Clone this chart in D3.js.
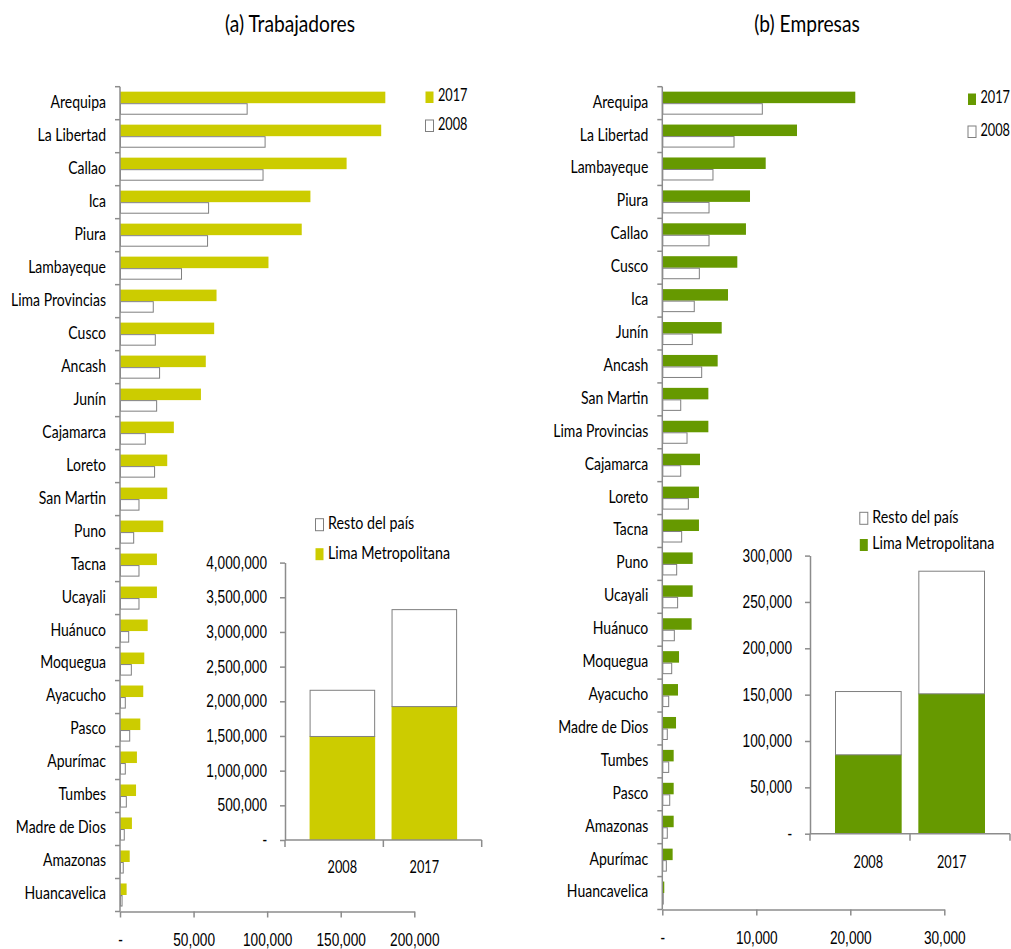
<!DOCTYPE html>
<html>
<head>
<meta charset="utf-8">
<script src="https://cdn.jsdelivr.net/npm/d3@7"></script>
<style>
  body { margin: 0; background: #fff; }
  svg { font-family: Lato, "Liberation Sans", sans-serif; fill: #000; }
</style>
</head>
<body>
<div id="chart"></div>
<script>
const regionesTrab = ['Arequipa', 'La Libertad', 'Callao', 'Ica', 'Piura', 'Lambayeque', 'Lima Provincias', 'Cusco', 'Ancash', 'Junín',
  'Cajamarca', 'Loreto', 'San Martin', 'Puno', 'Tacna', 'Ucayali', 'Huánuco', 'Moquegua', 'Ayacucho', 'Pasco',
  'Apurímac', 'Tumbes', 'Madre de Dios', 'Amazonas', 'Huancavelica'];
const trab2017 = [180300, 177500, 154000, 129400, 123500, 100900, 65600, 64000, 58300, 55000,
  36600, 32100, 32100, 29400, 25100, 25100, 18800, 16500, 15800, 13800, 11500, 10900, 8100, 6600, 4500];
const trab2008 = [86400, 98600, 97200, 60200, 59500, 41800, 22600, 24000, 26900, 24900,
  17200, 23500, 12900, 9300, 12900, 12900, 5900, 7700, 3600, 6600, 3600, 4300, 2900, 2200, 1400];

const regionesEmp = ['Arequipa', 'La Libertad', 'Lambayeque', 'Piura', 'Callao', 'Cusco', 'Ica', 'Junín', 'Ancash', 'San Martin',
  'Lima Provincias', 'Cajamarca', 'Loreto', 'Tacna', 'Puno', 'Ucayali', 'Huánuco', 'Moquegua', 'Ayacucho', 'Madre de Dios',
  'Tumbes', 'Pasco', 'Amazonas', 'Apurímac', 'Huancavelica'];
const emp2017 = [20530, 14330, 11000, 9330, 8900, 7980, 6990, 6320, 5890, 4900,
  4900, 4010, 3900, 3900, 3230, 3230, 3120, 1780, 1670, 1460, 1210, 1210, 1210, 1100, 210];
const emp2008 = [10640, 7630, 5390, 4970, 4970, 3940, 3400, 3190, 4190, 1960,
  2630, 1960, 2770, 2060, 1530, 1630, 1280, 1000, 680, 530, 680, 790, 530, 430, 100];

const years = ['2008', '2017'];
const limaTrab = [1500000, 1931000];
const restoTrab = [666000, 1398000];
const limaEmp = [85650, 151450];
const restoEmp = [68250, 132250];

const trabTicks = [0, 50000, 100000, 150000, 200000];
const empTicks = [0, 10000, 20000, 30000];
const trabInsetTicks = [0, 500000, 1000000, 1500000, 2000000, 2500000, 3000000, 3500000, 4000000];
const empInsetTicks = [0, 50000, 100000, 150000, 200000, 250000, 300000];

const axisColor = '#8c8c8c';
const outline = '#7f7f7f';
const fmt = v => v === 0 ? '-' : d3.format(',')(v);

const svg = d3.select('#chart').append('svg').attr('width', 1011).attr('height', 949);

// el original usa una fuente estrecha: tamaño por altura y luego se comprime el ancho
function textRole(sample, width, size) {
  const t = svg.append('text').style('font-size', size + 'px').text(sample);
  const w = t.node().getComputedTextLength();
  t.remove();
  return {size: size + 'px', k: width / w};
}
function squeeze(sel, role) {
  sel.style('font-size', role.size).each(function () {
    const w = this.getComputedTextLength();
    d3.select(this).attr('textLength', w * role.k).attr('lengthAdjust', 'spacingAndGlyphs');
  });
}
const titleRole = textRole('(a) Trabajadores', 130, 22.5);
const catRole = textRole('Lima Provincias', 95, 17.5);
const tickRole = textRole('4,000,000', 61.7, 17.5);
const legRole = textRole('Lima Metropolitana', 122, 17.5);
const yearRole = textRole('2017', 29.5, 17.5);

function barPanel(cfg) {
  const g = svg.append('g');

  g.append('text')
      .attr('x', cfg.titleX).attr('y', 26)
      .attr('text-anchor', 'middle').attr('dominant-baseline', 'middle')
      .text(cfg.title)
      .call(squeeze, titleRole);

  const x = d3.scaleLinear().domain([0, cfg.xMax]).range([cfg.x0, cfg.x1]);
  const y = d3.scaleBand().domain(cfg.regiones).range([86.7, cfg.yBottom]);
  const sub = d3.scaleBand().domain(['2017', '2008']).range([0, y.bandwidth()]).paddingOuter(0.43);

  const rows = cfg.regiones.map((r, i) => ({region: r, v2017: cfg.v2017[i], v2008: cfg.v2008[i]}));

  g.selectAll('.b2017').data(rows).enter().append('rect')
      .attr('x', cfg.x0)
      .attr('y', d => y(d.region) + sub('2017'))
      .attr('width', d => x(d.v2017) - cfg.x0)
      .attr('height', sub.bandwidth())
      .attr('fill', cfg.color);

  g.selectAll('.b2008').data(rows).enter().append('rect')
      .attr('x', cfg.x0 + 0.5)
      .attr('y', d => y(d.region) + sub('2008') + 0.5)
      .attr('width', d => Math.max(0, x(d.v2008) - cfg.x0 - 0.5))
      .attr('height', sub.bandwidth() - 1)
      .attr('fill', '#fff')
      .attr('stroke', outline)
      .attr('stroke-width', 1);

  // eje vertical con marcas entre categorías
  const bounds = cfg.regiones.map(r => y(r)).concat([cfg.yBottom]);
  g.append('line')
      .attr('x1', cfg.x0).attr('x2', cfg.x0)
      .attr('y1', 86.7).attr('y2', cfg.yBottom)
      .attr('stroke', axisColor).attr('stroke-width', 1.5);
  g.selectAll('.ytick').data(bounds).enter().append('line')
      .attr('x1', cfg.x0 - 5).attr('x2', cfg.x0)
      .attr('y1', d => d).attr('y2', d => d)
      .attr('stroke', axisColor).attr('stroke-width', 1.5);

  g.selectAll('.ylabel').data(cfg.regiones).enter().append('text')
      .attr('x', cfg.x0 - 14)
      .attr('y', d => y(d) + y.bandwidth() / 2)
      .attr('text-anchor', 'end').attr('dominant-baseline', 'middle')
      .text(d => d)
      .call(squeeze, catRole);

  const xAxis = g.append('g')
      .attr('transform', `translate(0,${cfg.yBottom})`)
      .call(d3.axisBottom(x).tickValues(cfg.ticks).tickSize(6).tickSizeOuter(0).tickPadding(16).tickFormat(fmt));
  xAxis.select('.domain').attr('stroke', axisColor).attr('stroke-width', 1.5);
  xAxis.selectAll('.tick line').attr('stroke', axisColor).attr('stroke-width', 1.5);
  xAxis.selectAll('.tick text')
      .attr('fill', '#000')
      .style('font-family', 'inherit')
      .call(squeeze, tickRole);

  // leyenda superior
  const leg = g.selectAll('.leg').data([
    {label: '2017', fill: cfg.color, stroke: 'none', cy: cfg.legY[0]},
    {label: '2008', fill: '#fff', stroke: outline, cy: cfg.legY[1]}
  ]).enter().append('g');
  leg.append('rect')
      .attr('x', cfg.legX + 0.5).attr('y', d => d.cy - 5.5)
      .attr('width', 8).attr('height', 11.5)
      .attr('fill', d => d.fill).attr('stroke', d => d.stroke);
  leg.append('text')
      .attr('x', cfg.legX + 13).attr('y', d => d.cy)
      .attr('dominant-baseline', 'middle')
      .text(d => d.label)
      .call(squeeze, yearRole);

  insetPanel(g, cfg.inset, cfg.color);
}

function insetPanel(g, ins, color) {
  const x = d3.scaleBand().domain(years).range([ins.x0, ins.x1]).paddingInner(0.2).paddingOuter(0.3);
  const y = d3.scaleLinear().domain([0, ins.yMax]).range([ins.yBase, ins.yTop]);

  const stacks = years.map((yr, i) => ({year: yr, lima: ins.lima[i], resto: ins.resto[i]}));

  g.selectAll('.lima').data(stacks).enter().append('rect')
      .attr('x', d => x(d.year))
      .attr('y', d => y(d.lima))
      .attr('width', x.bandwidth())
      .attr('height', d => ins.yBase - y(d.lima))
      .attr('fill', color);

  g.selectAll('.resto').data(stacks).enter().append('rect')
      .attr('x', d => x(d.year) + 0.5)
      .attr('y', d => y(d.lima + d.resto) + 0.5)
      .attr('width', x.bandwidth() - 1)
      .attr('height', d => y(d.lima) - y(d.lima + d.resto))
      .attr('fill', '#fff')
      .attr('stroke', outline);

  const yAxis = g.append('g')
      .attr('transform', `translate(${ins.x0},0)`)
      .call(d3.axisLeft(y).tickValues(ins.ticks).tickSize(5).tickSizeOuter(0).tickPadding(13).tickFormat(fmt));
  yAxis.select('.domain').attr('stroke', axisColor).attr('stroke-width', 1.5);
  yAxis.selectAll('.tick line').attr('stroke', axisColor).attr('stroke-width', 1.5);
  yAxis.selectAll('.tick text')
      .attr('fill', '#000')
      .style('font-family', 'inherit')
      .call(squeeze, tickRole);

  g.append('line')
      .attr('x1', ins.x0).attr('x2', ins.x1)
      .attr('y1', ins.yBase).attr('y2', ins.yBase)
      .attr('stroke', axisColor).attr('stroke-width', 1.5);
  const step = (ins.x1 - ins.x0) / years.length;
  g.selectAll('.xtick').data(d3.range(years.length + 1)).enter().append('line')
      .attr('x1', d => ins.x0 + d * step).attr('x2', d => ins.x0 + d * step)
      .attr('y1', ins.yBase).attr('y2', ins.yBase + 7)
      .attr('stroke', axisColor).attr('stroke-width', 1.5);

  g.selectAll('.xlabel').data(years).enter().append('text')
      .attr('x', d => x(d) + x.bandwidth() / 2)
      .attr('y', ins.labelY)
      .attr('text-anchor', 'middle').attr('dominant-baseline', 'middle')
      .text(d => d)
      .call(squeeze, yearRole);

  const leg = g.selectAll('.ileg').data([
    {label: 'Resto del país', fill: '#fff', stroke: outline, cy: ins.legY[0]},
    {label: 'Lima Metropolitana', fill: color, stroke: 'none', cy: ins.legY[1]}
  ]).enter().append('g');
  leg.append('rect')
      .attr('x', ins.legX + 0.5).attr('y', d => d.cy - 6)
      .attr('width', 8).attr('height', 12)
      .attr('fill', d => d.fill).attr('stroke', d => d.stroke);
  leg.append('text')
      .attr('x', ins.legX + 13).attr('y', d => d.cy)
      .attr('dominant-baseline', 'middle')
      .text(d => d.label)
      .call(squeeze, legRole);
}

barPanel({
  title: '(a) Trabajadores', titleX: 290,
  regiones: regionesTrab, v2017: trab2017, v2008: trab2008,
  color: '#cccc00',
  x0: 120, x1: 414.3, xMax: 200000, ticks: trabTicks, yBottom: 911.5,
  legX: 425, legY: [97, 125.5],
  inset: {
    x0: 285, x1: 481.7, yBase: 840, yTop: 562.6, yMax: 4000000, ticks: trabInsetTicks,
    lima: limaTrab, resto: restoTrab, labelY: 869, legX: 315, legY: [524.7, 554.2]
  }
});

barPanel({
  title: '(b) Empresas', titleX: 807,
  regiones: regionesEmp, v2017: emp2017, v2008: emp2008,
  color: '#669900',
  x0: 662.3, x1: 944.3, xMax: 30000, ticks: empTicks, yBottom: 909.5,
  legX: 967.5, legY: [99, 131.5],
  inset: {
    x0: 810, x1: 1010, yBase: 833.7, yTop: 555.6, yMax: 300000, ticks: empInsetTicks,
    lima: limaEmp, resto: restoEmp, labelY: 863.3, legX: 859.3, legY: [518.3, 545]
  }
});
</script>
</body>
</html>
